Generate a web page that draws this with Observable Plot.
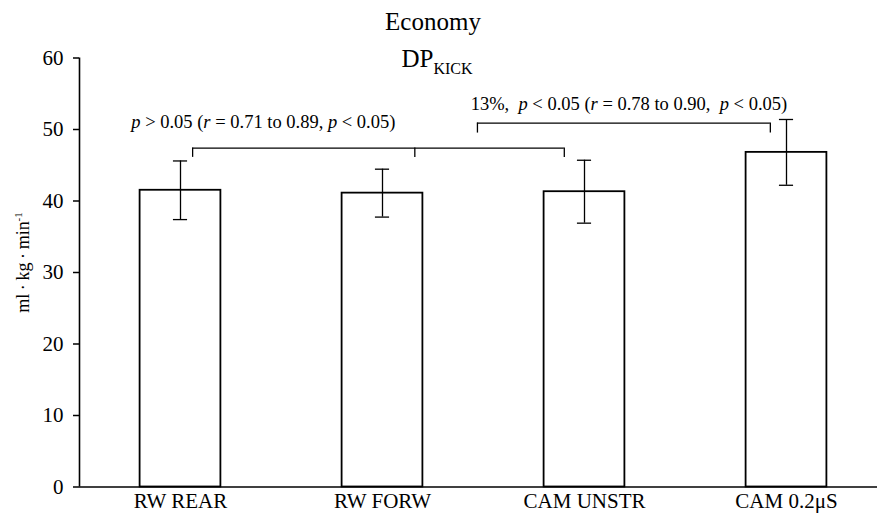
<!DOCTYPE html>
<html><head><meta charset="utf-8">
<script src="https://cdn.jsdelivr.net/npm/d3@7"></script>
<script src="https://cdn.jsdelivr.net/npm/@observablehq/plot@0.6"></script>
<style>html,body{margin:0;padding:0;background:#fff} svg{display:block} svg text{font-family:"Liberation Serif","Times New Roman",serif !important;}</style>
</head><body><div id="chart"></div>
<script>
const categories = ["RW REAR", "RW FORW", "CAM UNSTR", "CAM 0.2\u03bcS"];
const means = [41.5, 41.1, 41.3, 46.8];
const sds = [4.1, 3.35, 4.4, 4.6];
const yTicks = [0, 10, 20, 30, 40, 50, 60];

const bracketY = [47.4, 50.9];
const bracketDropY = [46.1, 49.5];
const bracketX1 = [0.06, 1.47];
const bracketX2 = [1.90, 2.92];
const bracketDrops = [[0.06, 1.16, 1.90], [1.47, 2.92]];

const annotations = ["p > 0.05 (r = 0.71 to 0.89, p < 0.05)", "13%,  p < 0.05 (r = 0.78 to 0.90,  p < 0.05)"];
const annotX = [0.41, 2.22];
const annotY = [51.1, 53.6];

const titleText = "Economy";
const subMain = "DP";
const subSub = "KICK";
const yLabel = "ml\u2009\u00b7\u2009kg\u2009\u00b7\u2009min";
const yLabelSup = "-1";

const data = categories.map((c, i) => ({i, cat: c, mean: means[i], sd: sds[i]}));
const brackets = bracketY.map((y, k) => ({y, x1: bracketX1[k], x2: bracketX2[k]}));
const drops = bracketDrops.flatMap((xs, k) => xs.map(x => ({x, y1: bracketDropY[k], y2: bracketY[k]})));
const notes = annotations.map((t, k) => ({t, x: annotX[k], y: annotY[k]}));

const font = "Liberation Serif, Times New Roman, serif";

const chart = Plot.plot({
  width: 877, height: 525,
  marginLeft: 79, marginRight: 0, marginTop: 57, marginBottom: 38,
  style: {fontFamily: font, background: "white", color: "black", overflow: "visible"},
  x: {domain: [-0.5, 3.5], range: [79, 887], axis: null},
  y: {domain: [0, 60], range: [486.5, 57.5], axis: null},
  marks: [
    Plot.axisY({ticks: yTicks, tickSize: 6, tickPadding: 10, fontSize: 21, label: null, strokeWidth: 1.5}),
    Plot.axisX({ticks: [0, 1, 2, 3], tickFormat: i => categories[i], tickSize: 0, tickPadding: 6, fontSize: 21, label: null}),
    Plot.rect(data, {x1: d => d.i - 0.2, x2: d => d.i + 0.2, y1: 0, y2: "mean", fill: "white", stroke: "black", strokeWidth: 1.8}),
    Plot.ruleX(data, {x: "i", y1: d => d.mean - d.sd, y2: d => d.mean + d.sd, strokeWidth: 1.3}),
    Plot.ruleY(data, {y: d => d.mean + d.sd, x1: d => d.i - 0.035, x2: d => d.i + 0.035, strokeWidth: 1.3}),
    Plot.ruleY(data, {y: d => d.mean - d.sd, x1: d => d.i - 0.035, x2: d => d.i + 0.035, strokeWidth: 1.3}),
    Plot.ruleY(brackets, {y: "y", x1: "x1", x2: "x2", strokeWidth: 1.3}),
    Plot.ruleX(drops, {x: "x", y1: "y1", y2: "y2", strokeWidth: 1.3}),
    Plot.ruleY([0], {strokeWidth: 1.6}),
    Plot.ruleX([-0.5], {y1: 0, y2: 60, strokeWidth: 1.6}),
    Plot.text(notes, {x: "x", y: "y", text: "t", fontSize: 18.5, ariaDescription: "annotation"}),
    Plot.text([titleText], {x: 1.25, y: 65, text: d => d, fontSize: 25}),
    Plot.text([subMain], {x: 1.27, y: 59.8, text: d => d, fontSize: 25, ariaDescription: "subtitle"}),
    Plot.text([yLabel], {x: -0.78, y: 31.4, text: d => d, fontSize: 18, rotate: -90, ariaDescription: "ylabel"})
  ]
});

document.getElementById("chart").appendChild(chart);
const svg = d3.select(chart);
const pick = name => svg.selectAll(`[aria-description="${name}"] text`);

pick("annotation").each(function() {
  const el = d3.select(this);
  const t = el.text();
  el.text(null);
  t.split(/\b([pr])\b/).forEach((part, idx) => {
    if (!part) return;
    const ts = el.append("tspan").text(part);
    if (idx % 2 === 1) ts.attr("font-style", "italic");
  });
});

pick("subtitle").each(function() {
  d3.select(this).append("tspan").attr("font-size", "16px").attr("dy", "7").text(subSub);
});

pick("ylabel").each(function() {
  d3.select(this).append("tspan").attr("font-size", "11px").attr("dy", "-7").text(yLabelSup);
});
</script>
</body></html>
